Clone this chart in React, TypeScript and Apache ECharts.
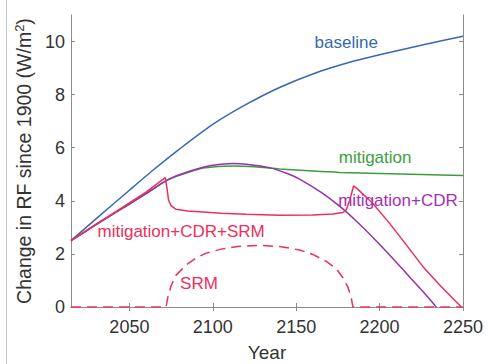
import React, { useEffect, useRef } from "react";
import * as echarts from "echarts";

// ---- data ----
const baselineYears = [2015, 2030, 2050, 2065, 2080, 2100, 2120, 2140, 2160, 2180, 2200, 2225, 2250];
const baselineValues = [2.5, 3.32, 4.4, 5.2, 5.95, 6.88, 7.63, 8.27, 8.78, 9.18, 9.5, 9.86, 10.2];

const mitigationYears = [2015, 2030, 2044, 2050, 2060, 2072, 2080, 2092, 2100, 2112, 2125, 2140, 2160, 2176, 2200, 2225, 2250];
const mitigationValues = [2.5, 3.1, 3.65, 3.88, 4.27, 4.75, 4.96, 5.2, 5.27, 5.31, 5.28, 5.2, 5.12, 5.07, 5.03, 4.99, 4.95];

const cdrYears = [2015, 2030, 2044, 2050, 2060, 2072, 2080, 2092, 2100, 2112, 2120, 2134, 2145, 2152, 2165, 2176, 2186, 2196, 2206, 2216, 2226, 2234];
const cdrValues = [2.5, 3.1, 3.65, 3.88, 4.27, 4.76, 4.98, 5.23, 5.34, 5.41, 5.38, 5.25, 5.02, 4.82, 4.32, 3.8, 3.24, 2.62, 1.96, 1.27, 0.58, 0];

const srmCombYears = [2015, 2030, 2044, 2050, 2060, 2071.5, 2072.5, 2073.5, 2075, 2078, 2085, 2092, 2105, 2120, 2140, 2160, 2172, 2178, 2180, 2182, 2184.4, 2187, 2196, 2206, 2216, 2226, 2236, 2249];
const srmCombValues = [2.5, 3.12, 3.68, 3.92, 4.33, 4.87, 4.5, 4.02, 3.82, 3.68, 3.62, 3.59, 3.53, 3.49, 3.46, 3.47, 3.5, 3.56, 3.66, 4.0, 4.56, 4.43, 3.9, 3.15, 2.34, 1.52, 0.83, 0];

const srmYears = [2015, 2072, 2073, 2075, 2078, 2084, 2090, 2096, 2105, 2115, 2128, 2140, 2152, 2160, 2168, 2174, 2178, 2181, 2183, 2184, 2250];
const srmValues = [0, 0, 0.35, 0.8, 1.2, 1.58, 1.85, 2.03, 2.18, 2.28, 2.32, 2.28, 2.15, 1.98, 1.72, 1.45, 1.1, 0.75, 0.35, 0, 0];

const xTicks = [2050, 2100, 2150, 2200, 2250];
const yTicks = [0, 2, 4, 6, 8, 10];

const labelTexts = ["baseline", "mitigation", "mitigation+CDR", "mitigation+CDR+SRM", "SRM"];
const labelYears = [2180, 2197.3, 2211, 2081, 2091.7];
const labelValues = [9.98, 5.65, 4.01, 2.86, 0.885];

const BLUE = "#3569B2";
const GREEN = "#3C9E3C";
const PURPLE = "#9A2EAE";
const RED = "#EC2F5B";
const labelColors = [BLUE, GREEN, "#A62FB4", RED, RED];

const FONT = "Liberation Sans, Arial, Helvetica, sans-serif";
const AXIS_GRAY = "#8c8c8c";
const TEXT_GRAY = "#333333";

const pairs = (xs: number[], ys: number[]) => xs.map((x, i) => [x, ys[i]]);

export default function App() {
  const ref = useRef<HTMLDivElement>(null);

  useEffect(() => {
    if (!ref.current) return;
    const chart = echarts.init(ref.current, null, { renderer: "svg" });

    const xBase = {
      type: "value" as const,
      min: 2015,
      max: 2250,
      splitLine: { show: false },
      axisLine: { show: true, lineStyle: { color: AXIS_GRAY, width: 1 } },
      axisTick: { show: true, inside: true, length: 4, customValues: xTicks, lineStyle: { color: AXIS_GRAY } },
    };
    const yBase = {
      type: "value" as const,
      min: 0,
      max: 11,
      splitLine: { show: false },
      axisLine: { show: true, lineStyle: { color: AXIS_GRAY, width: 1 } },
      axisTick: { show: true, inside: true, length: 4, customValues: yTicks, lineStyle: { color: AXIS_GRAY } },
    };

    const lineSeries = (name: string, xs: number[], ys: number[], color: string, smooth: number | boolean, dashed = false) => ({
      type: "line" as const,
      name,
      data: pairs(xs, ys),
      xAxisIndex: 0,
      yAxisIndex: 0,
      showSymbol: false,
      symbol: "none",
      smooth,
      clip: true,
      lineStyle: { color, width: 1.5, type: dashed ? [10, 6] : "solid" },
      emphasis: { disabled: true },
    });

    chart.setOption({
      animation: false,
      backgroundColor: "#ffffff",
      grid: { left: 71, top: 15, right: 25, bottom: 57, containLabel: false, outerBoundsMode: "none" },
      xAxis: [
        {
          ...xBase,
          position: "bottom",
          name: "Year",
          nameLocation: "middle",
          nameGap: 36,
          nameTextStyle: { fontFamily: FONT, fontSize: 19, color: TEXT_GRAY },
          axisLabel: {
            customValues: xTicks,
            formatter: (v: number) => String(v),
            fontFamily: FONT,
            fontSize: 18,
            color: TEXT_GRAY,
            margin: 11,
          },
        },
        { ...xBase, position: "top", axisLabel: { show: false } },
      ],
      yAxis: [
        {
          ...yBase,
          position: "left",
          name: "{a|Change in RF since 1900 (W/m}{s|2}{a|)}",
          nameLocation: "middle",
          nameGap: 35,
          nameTextStyle: {
            fontFamily: FONT,
            fontSize: 19.5,
            color: TEXT_GRAY,
            rich: {
              a: { fontFamily: FONT, fontSize: 19.5, color: TEXT_GRAY, lineHeight: 22 },
              s: { fontFamily: FONT, fontSize: 13, color: TEXT_GRAY, lineHeight: 22, verticalAlign: "top" },
            },
          },
          axisLabel: {
            customValues: yTicks,
            formatter: (v: number) => String(v),
            fontFamily: FONT,
            fontSize: 18,
            color: TEXT_GRAY,
            margin: 6,
          },
        },
        { ...yBase, position: "right", axisLabel: { show: false } },
      ],
      series: [
        lineSeries("baseline", baselineYears, baselineValues, BLUE, 0.25),
        lineSeries("mitigation", mitigationYears, mitigationValues, GREEN, 0.25),
        lineSeries("mitigation+CDR", cdrYears, cdrValues, PURPLE, 0.25),
        lineSeries("mitigation+CDR+SRM", srmCombYears, srmCombValues, RED, false),
        lineSeries("SRM", srmYears, srmValues, RED, false, true),
      ],
    });

    const texts = labelTexts.map((t, i) => {
      const p = chart.convertToPixel({ gridIndex: 0 }, [labelYears[i], labelValues[i]]) as number[];
      return {
        type: "text",
        x: p[0],
        y: p[1],
        silent: true,
        z: 10,
        style: {
          text: t,
          fill: labelColors[i],
          fontFamily: FONT,
          fontSize: 17,
          align: "center",
          verticalAlign: "middle",
        },
      };
    });

    chart.setOption({
      graphic: [
        { type: "line", shape: { x1: 6.5, y1: 0, x2: 6.5, y2: 364 }, style: { stroke: "#c4c4c4", lineWidth: 1 }, silent: true },
        ...texts,
      ],
    });

    return () => chart.dispose();
  }, []);

  return <div ref={ref} style={{ position: "fixed", left: 0, top: 0, width: 488, height: 364 }} />;
}
